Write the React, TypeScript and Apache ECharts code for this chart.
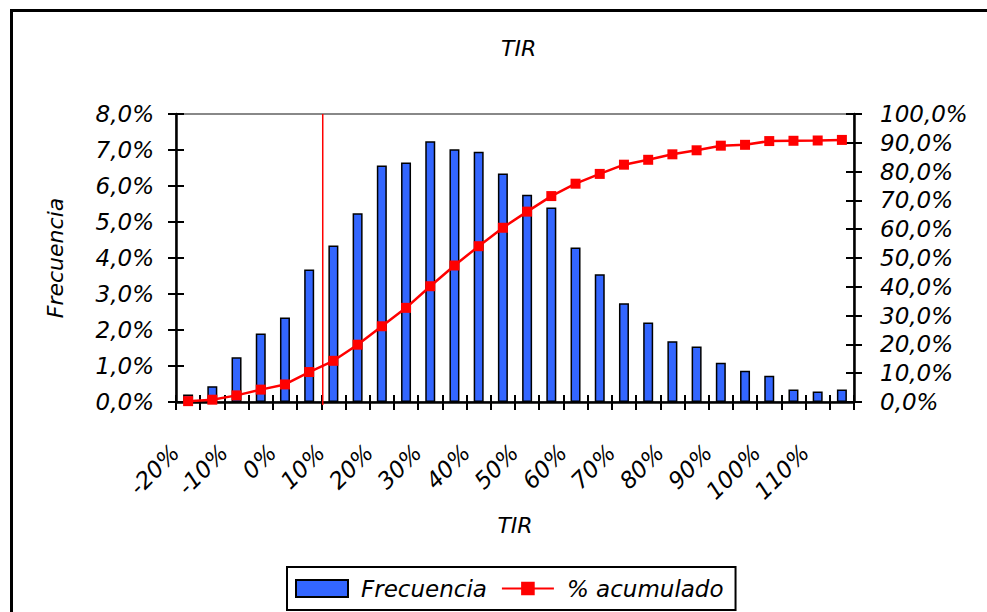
import React, { useEffect, useRef } from "react";
import * as echarts from "echarts";

// Intervalos de TIR (centro de cada intervalo)
const categorias = [
  "-20%", "-15%", "-10%", "-5%", "0%", "5%", "10%", "15%", "20%", "25%",
  "30%", "35%", "40%", "45%", "50%", "55%", "60%", "65%", "70%", "75%",
  "80%", "85%", "90%", "95%", "100%", "105%", "110%", "115%",
];

// Frecuencia relativa de cada intervalo (%)
const frecuencia = [
  0.21, 0.44, 1.24, 1.9, 2.35, 3.68, 4.35, 5.24, 6.57, 6.65,
  7.24, 7.02, 6.95, 6.35, 5.76, 5.4, 4.29, 3.55, 2.74, 2.21,
  1.69, 1.54, 1.09, 0.87, 0.73, 0.35, 0.29, 0.35,
];

// Porcentaje acumulado (%)
const acumulado = [
  0.3, 0.8, 2.3, 4.3, 6.1, 10.4, 14.3, 19.9, 26.3, 32.7,
  40.2, 47.4, 54.1, 60.5, 66.1, 71.5, 75.8, 79.2, 82.4, 84.1,
  86.0, 87.4, 89.0, 89.3, 90.6, 90.7, 90.8, 91.0,
];

// Tasa de corte marcada con la línea vertical (%)
const tasaCorte = 7.8;

// Límites del eje de TIR continuo (bordes del primer y último intervalo)
const tirMin = -22.5;
const tirMax = 117.5;

const FONT = "DejaVu Sans";

const pct1 = (v: number) => v.toFixed(1).replace(".", ",") + "%";

export default function App() {
  const ref = useRef<HTMLDivElement>(null);

  useEffect(() => {
    document.body.style.margin = "0";
    if (!ref.current) return;
    const chart = echarts.init(ref.current, undefined, { renderer: "svg" });

    const labelStyle = {
      fontFamily: FONT,
      fontStyle: "italic" as const,
      fontSize: 23,
      color: "#000",
    };

    const tickStyle = { color: "#000", width: 2 };

    chart.setOption({
      animation: false,
      backgroundColor: "#fff",
      title: {
        text: "TIR",
        left: 496,
        top: 32,
        textStyle: {
          fontFamily: FONT,
          fontStyle: "italic",
          fontWeight: "normal",
          fontSize: 22,
          color: "#000",
        },
      },
      graphic: [
        {
          type: "rect",
          shape: { x: 11.5, y: 10.5, width: 1000, height: 700 },
          style: { fill: "none", stroke: "#000", lineWidth: 3 },
          silent: true,
        },
      ],
      legend: {
        data: [
          { name: "Frecuencia", icon: "rect" },
          { name: "% acumulado" },
        ],
        left: 287,
        top: 567,
        orient: "horizontal",
        borderColor: "#000",
        borderWidth: 2,
        padding: [10, 12, 10, 8],
        itemWidth: 52,
        itemHeight: 17,
        itemGap: 14,
        textStyle: {
          fontFamily: FONT,
          fontStyle: "italic",
          fontSize: 23,
          color: "#000",
          padding: [0, 0, 0, 8],
        },
      },
      grid: {
        left: 176,
        top: 114,
        width: 678,
        height: 288,
        show: true,
        borderColor: "#888",
        borderWidth: 2,
        backgroundColor: "transparent",
      },
      xAxis: [
        {
          type: "category",
          data: categorias,
          position: "bottom",
          axisLine: { onZero: false, lineStyle: { color: "#000", width: 2.5 } },
          axisTick: { show: true, interval: 0, length: 8, lineStyle: tickStyle },
          axisLabel: {
            ...labelStyle,
            interval: 1,
            rotate: 45,
            margin: 34,
            padding: [0, 18, 0, 0],
          },
          splitLine: { show: false },
          name: "TIR",
          nameLocation: "middle",
          nameGap: 112,
          nameTextStyle: { ...labelStyle, fontSize: 22 },
        },
        {
          type: "category",
          data: categorias,
          position: "bottom",
          axisLine: { show: false, onZero: false },
          axisTick: { show: true, inside: true, interval: 0, length: 7, lineStyle: tickStyle },
          axisLabel: { show: false },
          splitLine: { show: false },
        },
        {
          type: "value",
          min: tirMin,
          max: tirMax,
          show: false,
        },
      ],
      yAxis: [
        {
          type: "value",
          position: "left",
          min: 0,
          max: 8,
          interval: 1,
          axisLine: { show: true, onZero: false, lineStyle: { color: "#000", width: 2.5 } },
          axisTick: { show: true, length: 8, lineStyle: tickStyle },
          axisLabel: { ...labelStyle, margin: 22, padding: [12, 0, 0, 0], formatter: pct1 },
          splitLine: { show: false },
          name: "Frecuencia",
          nameLocation: "middle",
          nameRotate: 90,
          nameGap: 110,
          nameTextStyle: { ...labelStyle, fontSize: 22 },
        },
        {
          type: "value",
          position: "right",
          min: 0,
          max: 100,
          interval: 10,
          axisLine: { show: true, onZero: false, lineStyle: { color: "#000", width: 2.5 } },
          axisTick: { show: true, length: 8, lineStyle: tickStyle },
          axisLabel: { ...labelStyle, margin: 26, padding: [12, 0, 0, 0], formatter: pct1 },
          splitLine: { show: false },
        },
        {
          type: "value",
          position: "left",
          min: 0,
          max: 8,
          interval: 1,
          axisLine: { show: false, onZero: false },
          axisTick: { show: true, inside: true, length: 8, lineStyle: tickStyle },
          axisLabel: { show: false },
          splitLine: { show: false },
        },
        {
          type: "value",
          position: "right",
          min: 0,
          max: 100,
          interval: 10,
          axisLine: { show: false, onZero: false },
          axisTick: { show: true, inside: true, length: 8, lineStyle: tickStyle },
          axisLabel: { show: false },
          splitLine: { show: false },
        },
      ],
      series: [
        {
          name: "Frecuencia",
          type: "bar",
          xAxisIndex: 0,
          yAxisIndex: 0,
          data: frecuencia,
          barWidth: 10,
          itemStyle: { color: "#3366FF", borderColor: "#000", borderWidth: 1.5 },
          z: 2,
        },
        {
          name: "corte",
          type: "line",
          xAxisIndex: 2,
          yAxisIndex: 0,
          data: [
            [tasaCorte, -0.08],
            [tasaCorte, 8],
          ],
          symbol: "none",
          clip: false,
          silent: true,
          lineStyle: { color: "#FF0000", width: 1.5 },
          z: 3,
        },
        {
          name: "% acumulado",
          type: "line",
          xAxisIndex: 0,
          yAxisIndex: 1,
          data: acumulado,
          symbol: "rect",
          symbolSize: 10,
          smooth: false,
          itemStyle: { color: "#FF0000" },
          lineStyle: { color: "#FF0000", width: 2.5 },
          z: 4,
        },
      ],
    });

    return () => chart.dispose();
  }, []);

  return <div ref={ref} style={{ width: 987, height: 612 }} />;
}
